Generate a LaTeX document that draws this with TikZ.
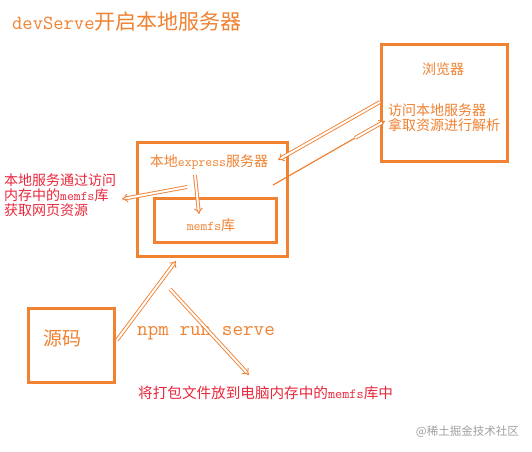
\documentclass[tikz,border=0pt]{standalone}
\usepackage{fontspec}
\setmainfont{Noto Sans CJK SC}
\setmonofont[Scale=0.952]{Latin Modern Mono}
\usetikzlibrary{arrows.meta}
\definecolor{org}{RGB}{240,130,50}
\definecolor{rd}{RGB}{232,40,60}
\definecolor{wm}{RGB}{160,160,160}
\newcommand{\fs}[1]{\fontsize{#1}{#1}\selectfont}
\tikzset{
  box/.style={draw=org, line width=3pt, inner sep=0pt},
  otext/.style={text=org, inner sep=0pt, font=\fs{14}},
  rtext/.style={text=rd, inner sep=0pt, font=\fs{14}, align=left},
  dblarrow/.style={draw=org, double=white, line width=0.9pt, double distance=2pt, -{Implies[scale=1.5]}},
  sglarrow/.style={draw=org, line width=1.2pt},
}
\begin{document}
\begin{tikzpicture}[x=1pt,y=-1pt]
\useasboundingbox[fill=white] (0,0) rectangle (532,451);
% title
\node[otext, font=\fs{21}, anchor=west] (title) at (12,22) {\texttt{devServe}开启本地服务器};
% browser
\node[box, minimum width=126pt, minimum height=117pt] (browser) at (444,102.5) {};
\node[otext] (browserlbl) at (443,69) {浏览器};
\node[otext, anchor=west] (visit1) at (388,110) {访问本地服务器};
\node[otext, anchor=west] (visit2) at (388,125) {拿取资源进行解析};
% express
\node[box, minimum width=150pt, minimum height=114pt] (express) at (212,199) {};
\node[otext] (expresslbl) at (209,162) {本地\texttt{express}服务器};
\node[box, minimum width=122pt, minimum height=44pt] (memfs) at (215,220) {};
\node[otext] (memfslbl) at (211,225) {\texttt{memfs}库};
% red note left
\node[rtext, anchor=north west] (note) at (4,174) {本地服务通过访问\\[1pt]内存中的\texttt{memfs}库\\[1pt]获取网页资源};
% source
\node[box, minimum width=86pt, minimum height=74pt] (src) at (71,345) {};
\node[otext, font=\fs{19}] (srclbl) at (62,338) {源码};
\node[otext, font=\fs{21.6}, anchor=west] (npm) at (137,333) {\texttt{npm run serve}};
\node[rtext, font=\fs{14.6}, anchor=west] (bottom) at (138,393) {将打包文件放到电脑内存中的\texttt{memfs}库中};
\node[text=wm, inner sep=0pt, font=\fs{11.5}, anchor=east] (wmk) at (519,432) {@稀土掘金技术社区};
% connector coordinates
\coordinate (a1s) at (380,102); \coordinate (a1e) at (278,160);
\coordinate (a2s) at (273,185); \coordinate (a2m) at (355,138); \coordinate (a2e) at (385,121);
\coordinate (a3s) at (195,175); \coordinate (a3e) at (199,214);
\coordinate (a4s) at (187,187); \coordinate (a4e) at (122,199);
\coordinate (a5s) at (117,340); \coordinate (a5e) at (176,261);
\coordinate (a6s) at (170,289); \coordinate (a6e) at (249,375);
% connectors
\draw[dblarrow] (a1s) -- (a1e);
\draw[sglarrow] (a2s) -- (a2m);
\draw[dblarrow] (a2m) -- (a2e);
\draw[dblarrow] (a3s) -- (a3e);
\draw[dblarrow] (a4s) -- (a4e);
\draw[dblarrow] (a5s) -- (a5e);
\draw[dblarrow] (a6s) -- (a6e);
\end{tikzpicture}
\end{document}
